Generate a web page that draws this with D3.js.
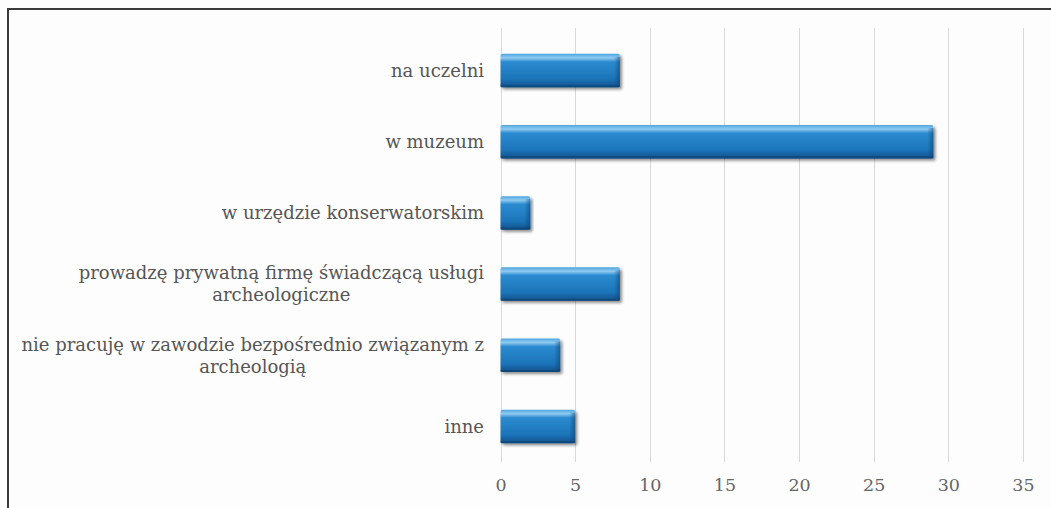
<!DOCTYPE html>
<html>
<head>
<meta charset="utf-8">
<script src="https://cdn.jsdelivr.net/npm/d3@7"></script>
<style>
  html, body { margin: 0; padding: 0; background: #fdfdfd; }
  svg { display: block; }
</style>
</head>
<body>
<svg id="chart" width="1051" height="508"></svg>
<script>
// Where respondents work (number of answers)
const categories = [
  "na uczelni",
  "w muzeum",
  "w urzędzie konserwatorskim",
  "prowadzę prywatną firmę świadczącą usługi\narcheologiczne",
  "nie pracuję w zawodzie bezpośrednio związanym z\narcheologią",
  "inne"
];
const counts = [8, 29, 2, 8, 4, 5];
const xTicks = [0, 5, 10, 15, 20, 25, 30, 35];

const W = 1051, H = 508;
const plot = { left: 500.5, right: 1023, top: 35, bottom: 462 };
const labelRight = 484;
const fontFamily = "'DejaVu Serif', 'Liberation Serif', serif";

const svg = d3.select("#chart");

// frame: top and left rules
svg.append("line").attr("x1", 8).attr("x2", W).attr("y1", 9).attr("y2", 9)
  .attr("stroke", "#3a3a3a").attr("stroke-width", 2);
svg.append("line").attr("x1", 8).attr("x2", 8).attr("y1", 8).attr("y2", H)
  .attr("stroke", "#3a3a3a").attr("stroke-width", 2);

const x = d3.scaleLinear().domain([0, 35]).range([plot.left, plot.right]);
const y = d3.scaleBand().domain(categories).range([plot.top, plot.bottom]).paddingInner(0.53).paddingOuter(0.265);

// gradient + shadow for bevelled bars
const defs = svg.append("defs");
const grad = defs.append("linearGradient").attr("id", "barGrad")
  .attr("x1", 0).attr("y1", 0).attr("x2", 0).attr("y2", 1);
grad.append("stop").attr("offset", "0%").attr("stop-color", "#4fa6e0");
grad.append("stop").attr("offset", "12%").attr("stop-color", "#8fcbf0");
grad.append("stop").attr("offset", "24%").attr("stop-color", "#2c8bd0");
grad.append("stop").attr("offset", "75%").attr("stop-color", "#1b74b8");
grad.append("stop").attr("offset", "100%").attr("stop-color", "#12508a");

const endGrad = defs.append("linearGradient").attr("id", "endGrad")
  .attr("x1", 0).attr("y1", 0).attr("x2", 1).attr("y2", 0);
endGrad.append("stop").attr("offset", "0%").attr("stop-color", "#0e3f70").attr("stop-opacity", 0);
endGrad.append("stop").attr("offset", "100%").attr("stop-color", "#0e3f70").attr("stop-opacity", 0.55);

const shadow = defs.append("filter").attr("id", "barShadow")
  .attr("x", "-5%").attr("y", "-20%").attr("width", "115%").attr("height", "150%");
shadow.append("feGaussianBlur").attr("in", "SourceAlpha").attr("stdDeviation", 1.6);
shadow.append("feOffset").attr("dx", 1.5).attr("dy", 2).attr("result", "off");
shadow.append("feComponentTransfer").append("feFuncA").attr("type", "linear").attr("slope", 0.45);
const merge = shadow.append("feMerge");
merge.append("feMergeNode");
merge.append("feMergeNode").attr("in", "SourceGraphic");

// vertical gridlines
svg.append("g").selectAll("line").data(xTicks).join("line")
  .attr("x1", d => Math.round(x(d)) + 0.5).attr("x2", d => Math.round(x(d)) + 0.5)
  .attr("y1", plot.top - 7).attr("y2", plot.bottom)
  .attr("stroke", "#d9d9d9").attr("stroke-width", 1);

// x axis tick labels
const xAxis = d3.axisBottom(x).tickValues(xTicks).tickSize(0).tickPadding(0);
const gx = svg.append("g").attr("transform", `translate(0,${plot.bottom + 17})`).call(xAxis);
gx.select(".domain").remove();
gx.selectAll("text")
  .attr("font-family", fontFamily).attr("font-size", 17.5).attr("fill", "#666666")
  .attr("dy", "0.71em");

// bars
const bars = svg.append("g").selectAll("g").data(categories).join("g")
  .attr("filter", "url(#barShadow)");
bars.append("rect")
  .attr("x", x(0)).attr("y", d => y(d))
  .attr("width", (d, i) => x(counts[i]) - x(0)).attr("height", y.bandwidth())
  .attr("rx", 2).attr("fill", "url(#barGrad)");
bars.append("rect")
  .attr("x", (d, i) => Math.max(x(0), x(counts[i]) - 6)).attr("y", d => y(d) + 3)
  .attr("width", (d, i) => Math.min(6, x(counts[i]) - x(0))).attr("height", y.bandwidth() - 4)
  .attr("fill", "url(#endGrad)");
bars.append("rect")
  .attr("x", x(0)).attr("y", d => y(d) + y.bandwidth() - 2)
  .attr("width", (d, i) => x(counts[i]) - x(0)).attr("height", 2)
  .attr("fill", "#0f4475").attr("opacity", 0.7);

// category labels: lines centred on each other, block right-aligned
const lineH = 22;
const labels = svg.append("g");
categories.forEach(cat => {
  const lines = cat.split("\n");
  const cy = y(cat) + y.bandwidth() / 2;
  const t = labels.append("text")
    .attr("font-family", fontFamily).attr("font-size", 18).attr("fill", "#555555");
  lines.forEach((ln, k) => {
    t.append("tspan").text(ln)
      .attr("y", cy + (k - (lines.length - 1) / 2) * lineH)
      .attr("dy", "0.35em");
  });
  const widths = [];
  t.selectAll("tspan").each(function () { widths.push(this.getComputedTextLength()); });
  const maxW = d3.max(widths);
  t.attr("text-anchor", "middle");
  t.selectAll("tspan").attr("x", labelRight - maxW / 2);
});
</script>
</body>
</html>
